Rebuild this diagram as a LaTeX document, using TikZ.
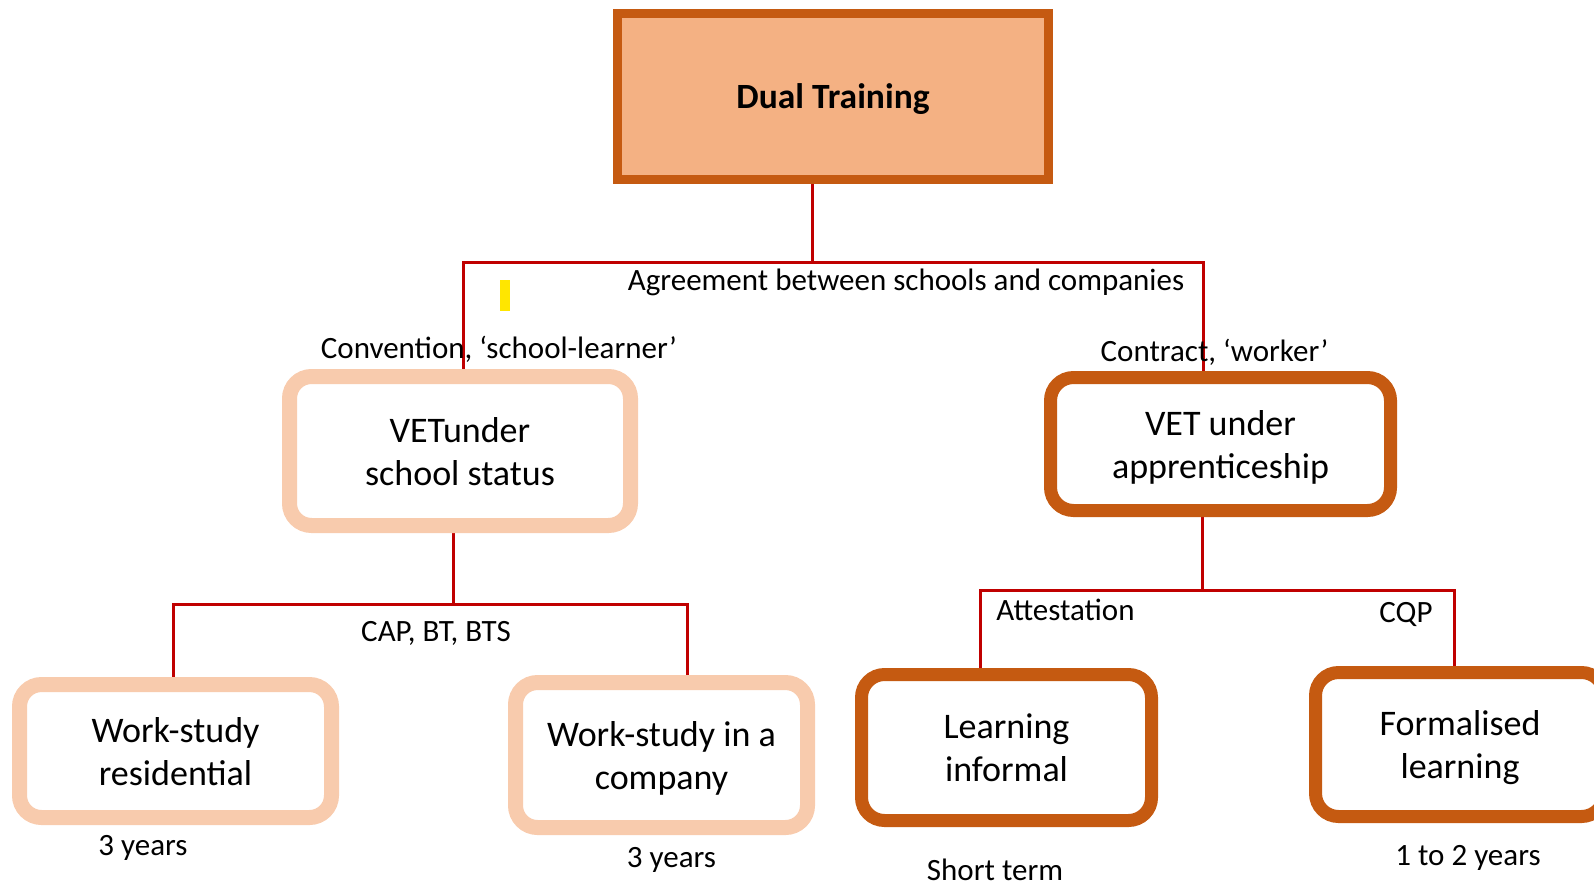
\documentclass[tikz,border=0pt]{standalone}
\usepackage{fontspec}
\setmainfont{Carlito}
\usepackage{tikz}
\usetikzlibrary{calc,backgrounds}

\definecolor{darkorange}{HTML}{C55A11}
\definecolor{peach}{HTML}{F8CBAD}
\definecolor{salmon}{HTML}{F4B183}
\definecolor{linkred}{HTML}{C00000}
\definecolor{marker}{HTML}{FFE600}

\begin{document}
\begin{tikzpicture}[x=1pt, y=-1pt,
    big/.style={font=\fontsize{36}{43}\selectfont, align=center, inner sep=0pt, text depth=0pt},
    small/.style={font=\fontsize{31}{36}\selectfont, inner sep=0pt},
    lightbox/.style={big, draw=peach, fill=white, line width=15pt, rounded corners=22pt},
    darkbox/.style={big, draw=darkorange, fill=white, line width=13pt, rounded corners=23pt},
    link/.style={draw=linkred, line width=3pt}]
        \useasboundingbox (0,0) rectangle (1594,884);
        \clip (0,0) rectangle (1594,884);
        % boxes
        \node [big, draw=darkorange, fill=salmon, line width=9pt, rounded corners=0pt,
               minimum width=431pt, minimum height=166pt, font=\bfseries\fontsize{35.5}{43}\selectfont]
              (D) at (833,96.5) {Dual Training};
        \node [lightbox, minimum width=341pt, minimum height=149pt] (S) at (460,451) {VETunder\\school status};
        \node [darkbox, minimum width=340pt, minimum height=133pt] (A) at (1220.5,444) {VET under\\apprenticeship};
        \node [lightbox, minimum width=312pt, minimum height=133pt] (R) at (175.5,751) {Work-study\\residential};
        \node [lightbox, minimum width=292pt, minimum height=145pt] (C) at (661.5,755) {Work-study in a\\company};
        \node [darkbox, minimum width=290pt, minimum height=146pt] (I) at (1006.5,747.5) {Learning\\informal};
        \node [darkbox, minimum width=289pt, minimum height=144pt] (F) at (1460,744.5) {Formalised\\learning};
        % junctions
        \coordinate (J1) at (812,262);
        \coordinate (J2) at (453,604);
        \coordinate (J3) at (1202,590);
        \begin{scope}[on background layer]
            \draw [link] (D.south -| J1) -- (J1);
            \draw [link] ([xshift=3pt]S.north) |- (J1) -| ([xshift=-17.5pt]A.north);
            \draw [link] (S.south -| J2) -- (J2);
            \draw [link] ([xshift=-2.5pt]R.north) |- (J2) -| ([xshift=25.5pt]C.north);
            \draw [link] (A.south -| J3) -- (J3);
            \draw [link] ([xshift=-26.5pt]I.north) |- (J3) -| ([xshift=-5.5pt]F.north);
        \end{scope}
        \fill [marker] (500,280) rectangle (510,311);
        % labels
        \node [small] (agree) at (906,282) {Agreement between schools and companies};
        \node [small] (conv) at (499,349) {Convention, ‘school-learner’};
        \node [small] (contr) at (1214.5,352) {Contract, ‘worker’};
        \node [small] (cap) at (436,633) {CAP, BT, BTS};
        \node [small] (att) at (1065.5,610) {Attestation};
        \node [small] (cqp) at (1406,614) {CQP};
        \node [small] (dR) at (143,848) {3 years};
        \node [small] (dC) at (671.5,860) {3 years};
        \node [small] (dI) at (995,869.5) {Short term};
        \node [small] (dF) at (1468,858) {1 to 2 years};
    \end{tikzpicture}
\end{document}
